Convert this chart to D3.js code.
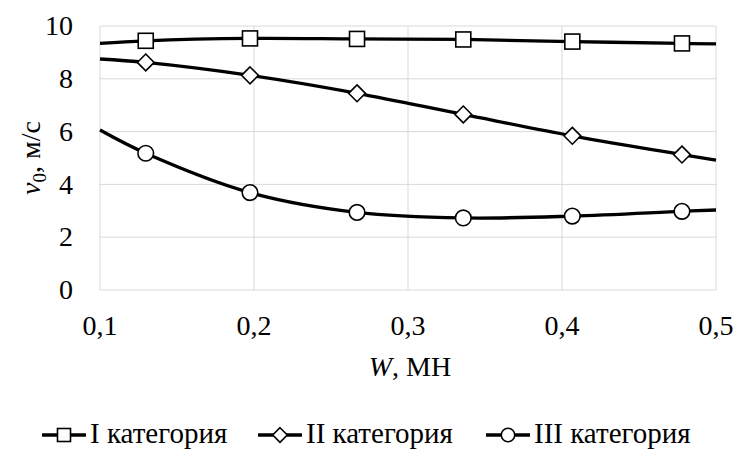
<!DOCTYPE html>
<html>
<head>
<meta charset="UTF-8">
<title>v0 от W</title>
<script src="https://d3js.org/d3.v7.min.js"></script>
<style>
    body { margin: 0; background: #fff; }
    .grid line { stroke: #d9d9d9; stroke-width: 1; }
    .series { fill: none; stroke: #000; stroke-width: 3.3; }
    .marker { fill: #fff; stroke: #000; stroke-width: 1.6; }
</style>
</head>
<body>
<svg id="chart" width="736" height="450"></svg>
<script>
// W, MN (first and last points sit on the axis edges, no marker there)
const wValues = [0.1, 0.1297, 0.1974, 0.2669, 0.3359, 0.4067, 0.4779, 0.5];
const cat1 = [9.34, 9.44, 9.53, 9.51, 9.49, 9.41, 9.34, 9.32];
const cat2 = [8.75, 8.62, 8.13, 7.45, 6.65, 5.84, 5.13, 4.92];
const cat3 = [6.06, 5.18, 3.69, 2.94, 2.73, 2.80, 2.98, 3.03];
const seriesNames = ['I категория', 'II категория', 'III категория'];
const markerTypes = ['square', 'diamond', 'circle'];
const xTicks = [0.1, 0.2, 0.3, 0.4, 0.5];
const yTicks = [0, 2, 4, 6, 8, 10];

const svg = d3.select('#chart');
const x = d3.scaleLinear().domain([0.1, 0.5]).range([100, 716]);
const y = d3.scaleLinear().domain([0, 10]).range([290, 26]);
const fmt = d => d3.format('.1f')(d).replace('.', ',');

// grid
const grid = svg.append('g').attr('class', 'grid');
grid.selectAll('.h').data(yTicks).enter().append('line')
    .attr('x1', x(0.1)).attr('x2', x(0.5))
    .attr('y1', d => y(d)).attr('y2', d => y(d));
grid.selectAll('.v').data(xTicks).enter().append('line')
    .attr('x1', d => x(d)).attr('x2', d => x(d))
    .attr('y1', y(0)).attr('y2', y(10));

// tick labels drawn as plain texts from the scales
svg.append('g').selectAll('text').data(xTicks).enter().append('text')
    .attr('x', d => x(d)).attr('y', y(0) + 45).attr('text-anchor', 'middle')
    .attr('font-family', 'Times New Roman').attr('font-size', 28)
    .text(fmt);
svg.append('g').selectAll('text').data(yTicks).enter().append('text')
    .attr('x', x(0.1) - 27).attr('y', d => y(d)).attr('dy', '0.33em').attr('text-anchor', 'end')
    .attr('font-family', 'Liberation Serif').attr('font-size', 28)
    .text(d => d);

// axis titles
svg.append('text').attr('x', 410).attr('y', 376).attr('text-anchor', 'middle')
    .attr('font-family', 'serif').attr('font-size', 28)
    .html('<tspan font-style="italic">W</tspan>, МН');
svg.append('text').attr('transform', 'translate(40,158) rotate(-90)').attr('text-anchor', 'middle')
    .attr('font-family', 'Times New Roman').attr('font-size', 28)
    .html('<tspan font-style="italic">v</tspan><tspan font-size="19" dy="6">0</tspan><tspan dy="-6">, м/с</tspan>');

// series
const line = d3.line().x(d => x(d[0])).y(d => y(d[1])).curve(d3.curveCatmullRom.alpha(0.5));
const allSeries = [cat1, cat2, cat3];

function drawMarker(g, type, cx, cy, s) {
    if (type === 'square') {
        g.append('rect').attr('class', 'marker')
            .attr('x', cx - s / 2).attr('y', cy - s / 2).attr('width', s).attr('height', s);
    } else if (type === 'diamond') {
        const r = s * 0.56;
        g.append('path').attr('class', 'marker')
            .attr('d', `M${cx},${cy - r}L${cx + r},${cy}L${cx},${cy + r}L${cx - r},${cy}Z`);
    } else {
        g.append('circle').attr('class', 'marker').attr('cx', cx).attr('cy', cy).attr('r', s * 0.52);
    }
}

allSeries.forEach((vals, i) => {
    const pts = wValues.map((w, j) => [w, vals[j]]);
    svg.append('path').attr('class', 'series').attr('d', line(pts));
    const g = svg.append('g');
    pts.slice(1, -1).forEach(p => drawMarker(g, markerTypes[i], x(p[0]), y(p[1]), 15));
});

// legend
const legendX = [42, 258, 486];
const legend = svg.append('g');
seriesNames.forEach((name, i) => {
    const lx = legendX[i], ly = 435;
    legend.append('line').attr('x1', lx).attr('x2', lx + 44).attr('y1', ly).attr('y2', ly)
        .attr('stroke', '#000').attr('stroke-width', 3.3);
    drawMarker(legend, markerTypes[i], lx + 22, ly, 13);
    legend.append('text').attr('x', lx + 48).attr('y', 443)
        .attr('font-family', 'Liberation Serif').attr('font-size', 29).text(name);
});
</script>
</body>
</html>
